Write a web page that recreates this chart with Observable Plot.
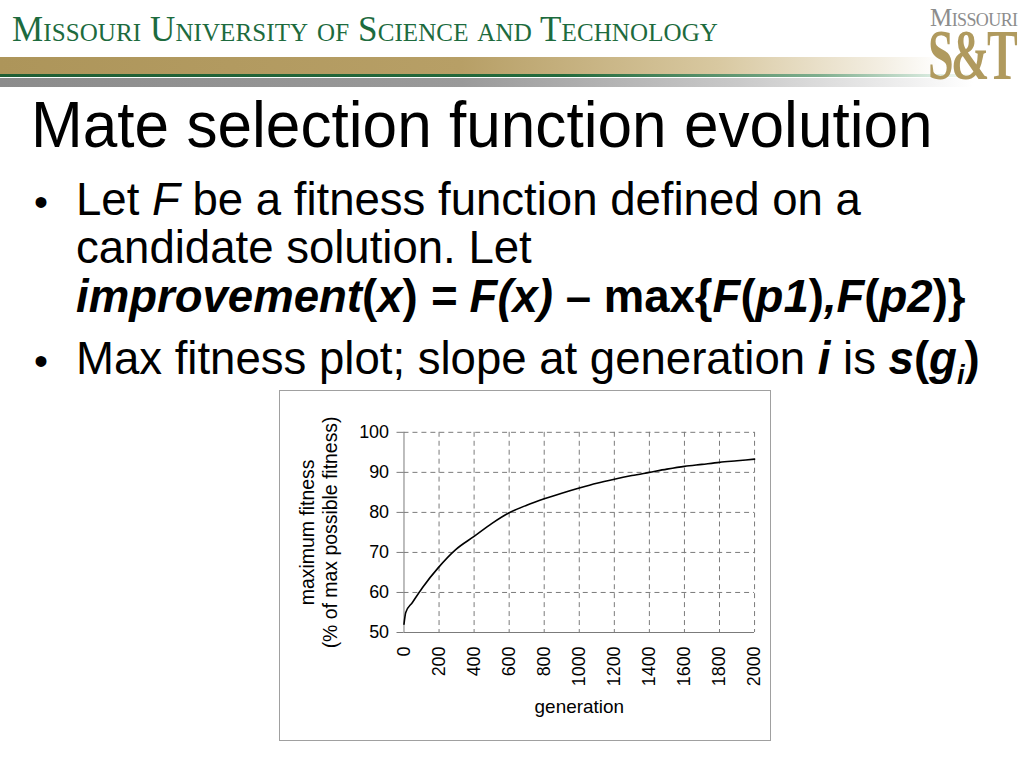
<!DOCTYPE html>
<html>
<head>
<meta charset="utf-8">
<script src="https://cdn.jsdelivr.net/npm/d3@7"></script>
<script src="https://cdn.jsdelivr.net/npm/@observablehq/plot@0.6"></script>
<style>
  html, body { margin: 0; padding: 0; background: #fff; }
  body { width: 1024px; height: 768px; position: relative; overflow: hidden; font-family: "Liberation Sans", Arial, sans-serif; }
  .abs { position: absolute; white-space: nowrap; line-height: 1; transform-origin: left top; }
  #uni { left: 12px; top: 12px; font-family: "Liberation Serif", serif; font-variant: small-caps; color: #1d6b3e; font-size: 35px; letter-spacing: 0.1px; }
  #goldbar { left: 0; top: 57px; width: 1024px; height: 17px; background: linear-gradient(to right, #ad955a 0%, #b79f66 45%, #d8c8a0 70%, #f3eee2 86%, #ffffff 92%); }
  #greenbar { left: 0; top: 74px; width: 1024px; height: 3px; background: linear-gradient(to right, #1f5e34 0%, #236a3c 55%, #7fae8e 80%, #e0efe5 92%, #ffffff 96%); }
  #graybar { left: 0; top: 78px; width: 1024px; height: 9px; background: linear-gradient(to right, #8c8c8c 0%, #9a9a9a 45%, #c9c9c9 72%, #eeeeee 88%, #ffffff 95%); }
  #logo1 { left: 930px; top: 8px; line-height: 0.8; font-family: "Liberation Serif", serif; font-variant: small-caps; color: #8d8d8d; font-size: 25px; letter-spacing: -0.6px; }
  #logo2 { left: 928px; top: 28px; line-height: 0.75; font-family: "Liberation Serif", serif; font-weight: bold; color: #b09a5e; font-size: 72px; letter-spacing: -4px; transform: scaleX(0.64); }
  #title { left: 31px; top: 93px; font-size: 64px; color: #000; transform: scaleX(0.971); }
  .line { font-size: 46px; color: #000; left: 76px; transform: scaleX(0.99); }
  .bullet { font-size: 40px; left: 34px; }
  b i, i b { font-weight: bold; font-style: italic; }
  #chartbox { left: 279px; top: 390px; width: 490px; height: 349px; border: 1px solid #a0a0a0; background: #fff; }
  #chartbox svg { position: absolute; left: -1px; top: -1px; overflow: visible; }
</style>
</head>
<body>
<div class="abs" id="uni">Missouri University of Science and Technology</div>
<div class="abs" id="goldbar"></div>
<div class="abs" id="greenbar"></div>
<div class="abs" id="graybar"></div>
<div class="abs" id="logo1">Missouri</div>
<div class="abs" id="logo2">S&amp;T</div>

<div class="abs" id="title">Mate selection function evolution</div>
<div class="abs bullet" style="top:182px">•</div>
<div class="abs line" style="top:176px">Let <i>F</i> be a fitness function defined on a</div>
<div class="abs line" style="top:224px">candidate solution. Let</div>
<div class="abs line" style="top:273px;font-weight:bold"><i>improvement</i>(<i>x</i>) <i>= F(x)</i> – max{<i>F</i>(<i>p1</i>)<i>,F</i>(<i>p2</i>)}</div>
<div class="abs bullet" style="top:341px">•</div>
<div class="abs line" style="top:335px">Max fitness plot; slope at generation <b><i>i</i></b> is <b><i>s</i>(<i>g<sub style="font-size:60%;line-height:0">i</sub></i>)</b></div>

<div class="abs" id="chartbox"></div>

<script>
// Data
const generation = [0, 10, 48, 105, 196, 295, 400, 500, 600, 700, 800, 900, 1000, 1100, 1200, 1300, 1400, 1500, 1600, 1700, 1800, 1900, 2000];
const maxFitness = [52.1, 55.0, 57.5, 61.2, 66.2, 70.7, 74.0, 77.2, 79.9, 81.8, 83.4, 84.8, 86.1, 87.3, 88.3, 89.2, 90.0, 90.8, 91.5, 92.0, 92.5, 92.9, 93.3];
const xTicks = [0, 200, 400, 600, 800, 1000, 1200, 1400, 1600, 1800, 2000];
const yTicks = [50, 60, 70, 80, 90, 100];
const yLabel = "maximum fitness\n(% of max possible fitness)";
const xLabel = "generation";

const data = generation.map((g, i) => ({g, f: maxFitness[i]}));

const chart = Plot.plot({
  width: 492,
  height: 351,
  marginLeft: 125,
  marginRight: 15,
  marginTop: 42,
  marginBottom: 108,
  style: {fontFamily: "'Liberation Sans', Arial, sans-serif", fontSize: "18px", color: "#000", background: "transparent", overflow: "visible"},
  x: {domain: [0, 2000]},
  y: {domain: [50, 100]},
  marks: [
    Plot.ruleY(yTicks.slice(1), {stroke: "#7a7a7a", strokeWidth: 1, strokeDasharray: "5,4"}),
    Plot.ruleX(xTicks.slice(1), {stroke: "#7a7a7a", strokeWidth: 1, strokeDasharray: "5,4"}),
    Plot.axisY({ticks: yTicks, tickSize: 7, tickPadding: 8, stroke: "#7a7a7a", label: null, fontSize: 18, fill: "#000", tickFormat: "d"}),
    Plot.axisX({ticks: xTicks, tickSize: 0, tickPadding: 14, tickRotate: -90, label: null, fontSize: 18, fill: "#000", tickFormat: "d"}),
    Plot.ruleX([0], {stroke: "#7a7a7a", strokeWidth: 1}),
    Plot.ruleY([50], {stroke: "#7a7a7a", strokeWidth: 1}),
    Plot.line(data, {x: "g", y: "f", stroke: "#000", strokeWidth: 1.6, curve: "monotone-x"}),
    Plot.text([yLabel], {frameAnchor: "left", dx: -86, rotate: -90, textAnchor: "middle", text: d => d, fontSize: 19.5, lineHeight: 1.18, fill: "#000"}),
    Plot.text([xLabel], {frameAnchor: "bottom", dy: 81, text: d => d, fontSize: 19, fill: "#000"})
  ]
});
document.getElementById("chartbox").appendChild(chart);
</script>
</body>
</html>
